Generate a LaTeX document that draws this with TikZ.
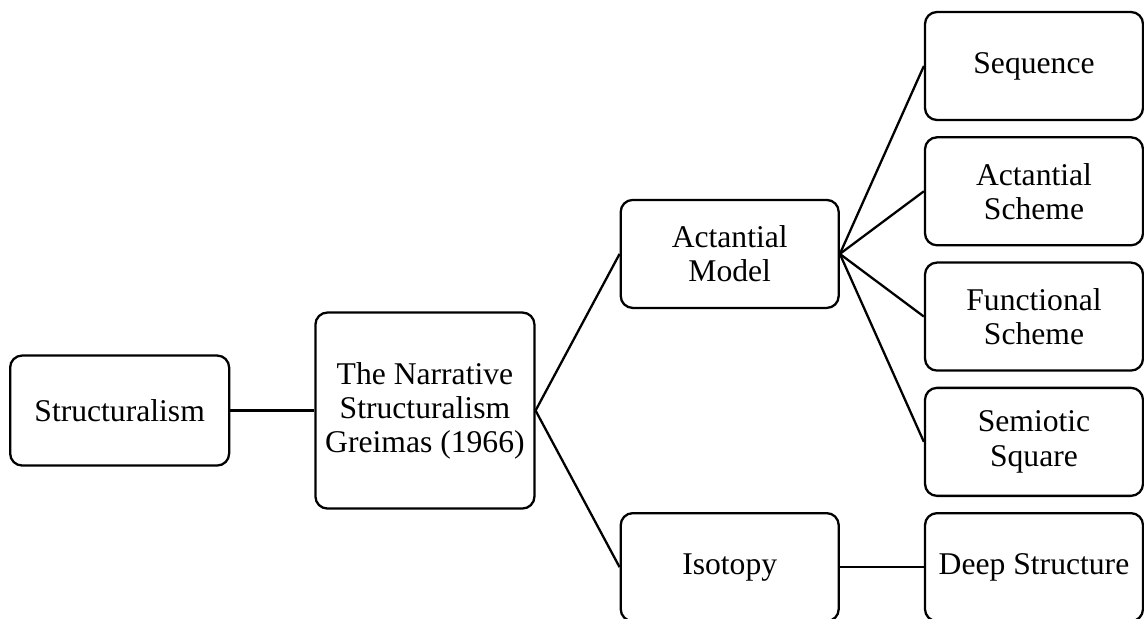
\documentclass[tikz,border=0pt]{standalone}
\usepackage{fontspec}
\setmainfont{Liberation Serif}
\usetikzlibrary{positioning,calc}

\begin{document}
\begin{tikzpicture}[
  box/.style={draw, rectangle, rounded corners=0.24cm, line width=1.3pt,
    minimum width=4.36cm, minimum height=2.16cm, inner sep=2pt, align=center,
    font=\fontsize{18pt}{19.4pt}\selectfont},
  link/.style={line width=1.3pt},
  node distance=0.3cm and 1.68cm
]
\useasboundingbox (0,0) rectangle (22.88,-12.38);

% --- Right column ---
\node[box] (seq) at (20.68,-1.32) {Sequence};
\node[box] (ascheme) [below=of seq]     {Actantial\\Scheme};
\node[box] (fscheme) [below=of ascheme] {Functional\\Scheme};
\node[box] (square)  [below=of fscheme] {Semiotic\\Square};
\node[box] (deep)    [below=of square]  {Deep Structure};

% --- Middle column ---
\coordinate (mid1) at ($(ascheme.west)!0.5!(fscheme.west)$);
\node[box] (model) [left=of mid1]      {Actantial\\Model};
\node[box] (iso)   [left=of deep.west] {Isotopy};

% --- Left part ---
\coordinate (mid2) at ($(model.west)!0.5!(iso.west)$);
\node[box, minimum width=4.38cm, minimum height=3.92cm] (narr) [left=of mid2]
  {The Narrative\\Structuralism\\Greimas (1966)};
\node[box, minimum width=4.38cm, minimum height=2.2cm] (struct) [left=of narr]
  {Structuralism};

% --- Connectors ---
\draw[link] (struct) -- (narr);
\draw[link] (narr.east) -- (model.west);
\draw[link] (narr.east) -- (iso.west);

\foreach \n in {seq,ascheme,fscheme,square}
  \draw[link] (model.east) -- (\n.west);

\draw[link] (iso) -- (deep);

\end{tikzpicture}
\end{document}
